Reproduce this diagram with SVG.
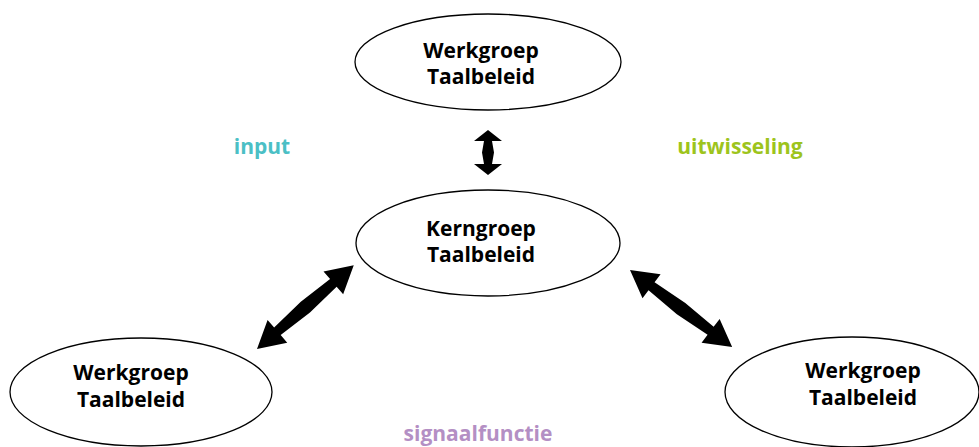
<svg xmlns="http://www.w3.org/2000/svg" width="979" height="447" viewBox="0 0 979 447">
<style>
.node ellipse{fill:#fff;stroke:#000;stroke-width:1.3}
.t{font-family:"Open Sans","Noto Sans",sans-serif;font-weight:700;font-size:21px;text-anchor:middle;fill:#000}
.lbl{font-family:"Open Sans","Noto Sans",sans-serif;font-weight:700;font-size:21px;text-anchor:middle}
.arr{fill:#000}
</style>
<rect width="979" height="447" fill="#fff"/>
<g id="top" class="node">
<ellipse cx="488" cy="62" rx="133" ry="48"/>
<text class="t" x="481" y="58">Werkgroep</text>
<text class="t" x="481" y="84">Taalbeleid</text>
</g>
<g id="center" class="node">
<ellipse cx="488" cy="243" rx="132" ry="53"/>
<text class="t" x="481" y="236">Kerngroep</text>
<text class="t" x="481" y="262">Taalbeleid</text>
</g>
<g id="left" class="node">
<ellipse cx="141" cy="392" rx="131" ry="54"/>
<text class="t" x="131" y="380">Werkgroep</text>
<text class="t" x="131" y="407">Taalbeleid</text>
</g>
<g id="right" class="node">
<ellipse cx="852" cy="392" rx="127" ry="55"/>
<text class="t" x="863" y="378">Werkgroep</text>
<text class="t" x="863" y="405">Taalbeleid</text>
</g>
<g id="connectors">
<polygon class="arr" transform="translate(488,130) rotate(90)" points="0,0 11,-14 11,-4 22.5,-6 34,-4 34,-14 45,0 34,14 34,4 22.5,6 11,4 11,14"/>
<polygon class="arr" transform="translate(257,349) rotate(-40.9)" points="0,0 27,-15 27,-5 64,-7 101,-5 101,-15 128,0 101,15 101,5 64,7 27,5 27,15"/>
<polygon class="arr" transform="translate(630,270) rotate(37.05)" points="0,0 27,-15 27,-5 64,-7 101,-5 101,-15 128,0 101,15 101,5 64,7 27,5 27,15"/>
</g>
<g id="labels">
<text class="lbl" x="262" y="154" fill="#4bbfc5">input</text>
<text class="lbl" x="740" y="154" fill="#9dc41c">uitwisseling</text>
<text class="lbl" x="478" y="441" fill="#b48fc4">signaalfunctie</text>
</g>
</svg>
